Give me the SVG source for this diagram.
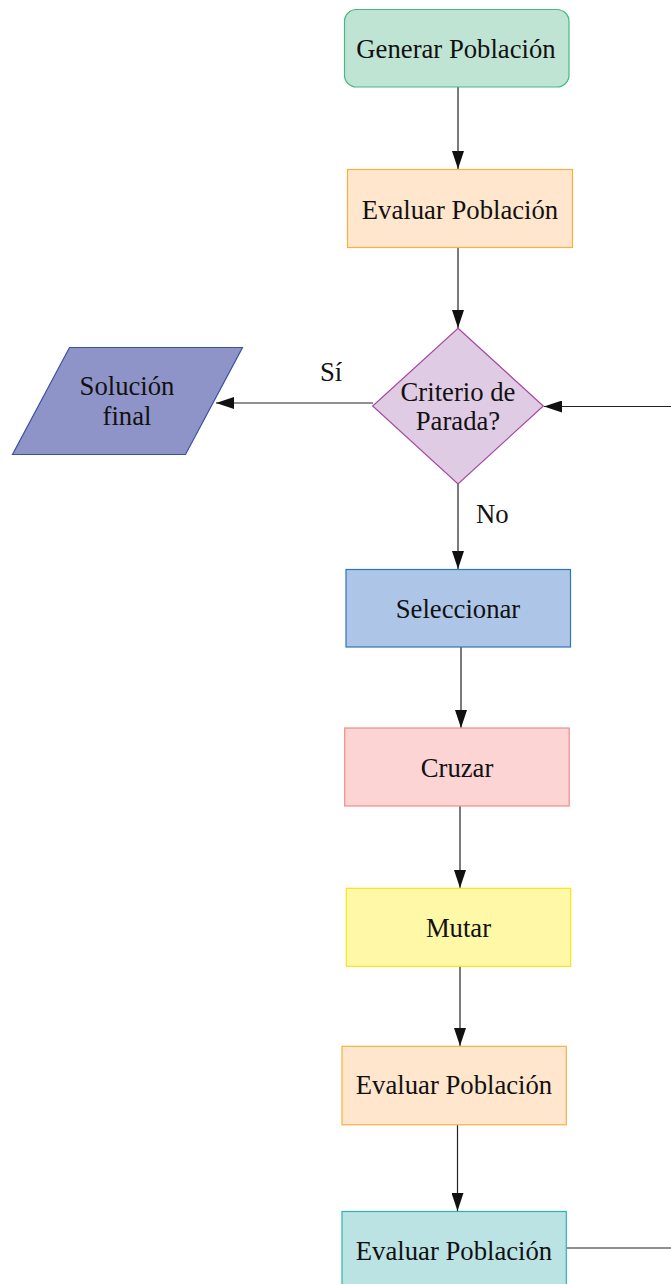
<svg xmlns="http://www.w3.org/2000/svg" width="671" height="1284" viewBox="0 0 671 1284">
<defs>
<marker id="ah" viewBox="0 0 18 12" refX="18" refY="6" markerWidth="18" markerHeight="12" markerUnits="userSpaceOnUse" orient="auto">
<path d="M0,0 L18,6 L0,12 Z" fill="#111"/>
</marker>
<style>
text{font-family:"Liberation Serif","Times New Roman",serif;font-size:26.7px;fill:#111;text-anchor:middle}
.c{fill:none;stroke:#222;stroke-width:1.2}
.lbl{text-anchor:start}
</style>
</defs>
<rect width="671" height="1284" fill="#fff"/>
<g id="connectors">
<line class="c" x1="458" y1="87" x2="458" y2="169" marker-end="url(#ah)"/>
<line class="c" x1="458" y1="248" x2="458" y2="328" marker-end="url(#ah)"/>
<line class="c" x1="373" y1="403" x2="216" y2="403" marker-end="url(#ah)"/>
<line class="c" x1="671" y1="406.5" x2="544" y2="406.5" marker-end="url(#ah)"/>
<line class="c" x1="458" y1="484" x2="458" y2="569" marker-end="url(#ah)"/>
<line class="c" x1="461" y1="647" x2="461" y2="728" marker-end="url(#ah)"/>
<line class="c" x1="460" y1="806" x2="460" y2="888" marker-end="url(#ah)"/>
<line class="c" x1="460" y1="966" x2="460" y2="1046" marker-end="url(#ah)"/>
<line class="c" x1="457.5" y1="1125" x2="457.5" y2="1211" marker-end="url(#ah)"/>
<line class="c" x1="566" y1="1248" x2="671" y2="1248"/>
<text class="lbl" x="320" y="380.5">Sí</text>
<text class="lbl" x="476" y="522.5">No</text>
</g>
<g id="generar">
<rect x="344.5" y="9.5" width="224.5" height="77.5" rx="12" fill="#bfe4d3" stroke="#45b985" stroke-width="1.2"/>
<text x="456" y="58">Generar Población</text>
</g>
<g id="evaluar1">
<rect x="347.5" y="169.5" width="225" height="78" fill="#ffe6cc" stroke="#f9b040" stroke-width="1.2"/>
<text x="460" y="218.5">Evaluar Población</text>
</g>
<g id="criterio">
<polygon points="458,328.3 543.3,406 458,484 372.7,406" fill="#e0cbe4" stroke="#a548a2" stroke-width="1.2"/>
<text x="458" y="400.5">Criterio de</text>
<text x="458" y="430">Parada?</text>
</g>
<g id="solucion">
<polygon points="69.5,347.5 242.5,347.5 185.5,454.5 12.5,454.5" fill="#8f94c8" stroke="#3852a2" stroke-width="1.2"/>
<text x="127" y="394.5">Solución</text>
<text x="127" y="424.5">final</text>
</g>
<g id="seleccionar">
<rect x="346" y="569.5" width="224.5" height="77.5" fill="#adc6e8" stroke="#2f74bd" stroke-width="1.2"/>
<text x="458" y="618">Seleccionar</text>
</g>
<g id="cruzar">
<rect x="344.7" y="728" width="224.5" height="78" fill="#fbd4d3" stroke="#f28c86" stroke-width="1.2"/>
<text x="457" y="777">Cruzar</text>
</g>
<g id="mutar">
<rect x="346.3" y="888.3" width="224.4" height="78" fill="#fff8a6" stroke="#f7e31a" stroke-width="1.2"/>
<text x="458.5" y="936.5">Mutar</text>
</g>
<g id="evaluar2">
<rect x="342" y="1046.3" width="224.3" height="78.5" fill="#ffe6cc" stroke="#f9b040" stroke-width="1.2"/>
<text x="454" y="1094">Evaluar Población</text>
</g>
<g id="evaluar3">
<rect x="342" y="1211.5" width="224.3" height="90" fill="#bce3e3" stroke="#2bb3b3" stroke-width="1.2"/>
<text x="454" y="1259.5">Evaluar Población</text>
</g>
</svg>
